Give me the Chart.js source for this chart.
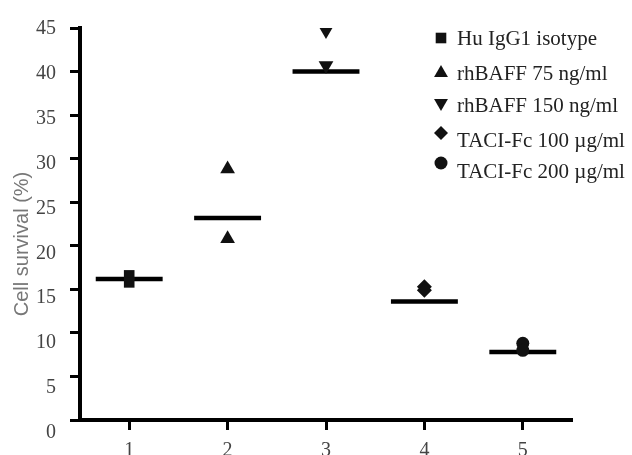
<!DOCTYPE html>
<html><head><meta charset="utf-8">
<script src="https://cdn.jsdelivr.net/npm/chart.js@4.4.1/dist/chart.umd.min.js"></script>
<style>html,body{margin:0;padding:0;background:#fff}canvas{display:block}</style>
</head><body>
<canvas id="c" width="632" height="455"></canvas>
<script>
// ---- data ----
const categories = [1, 2, 3, 4, 5];
const seriesNames = ['Hu IgG1 isotype', 'rhBAFF 75 ng/ml', 'rhBAFF 150 ng/ml', 'TACI-Fc 100 \u00b5g/ml', 'TACI-Fc 200 \u00b5g/ml'];
const isotype = [16.6, 15.8];
const baff75 = [28.8, 20.8];
const baff150 = [44.7, 40.7];
const taci100 = [15.3, 14.9];
const taci200 = [8.8, 8.0];
const medians = [16.2, 23.2, 40.0, 13.6, 7.8];
const xTickValues = [1, 2, 3, 4, 5];
const yTickValues = [0, 5, 10, 15, 20, 25, 30, 35, 40, 45];
const yTitle = 'Cell survival (%)';

// ---- styles ----
const seriesValues = [isotype, baff75, baff150, taci100, taci200];
const markerStyles = [
  {pointStyle: 'rect', radius: 7.5, rotation: 0},
  {pointStyle: 'triangle', radius: 8.5, rotation: 0},
  {pointStyle: 'triangle', radius: 8.5, rotation: 180},
  {pointStyle: 'rectRot', radius: 7.5, rotation: 0},
  {pointStyle: 'circle', radius: 6.5, rotation: 0}
];
const legendStyles = [
  {pointStyle: 'rect', radius: 7.5, rotation: 0, dy: 0},
  {pointStyle: 'triangle', radius: 8, rotation: 0, dy: 0},
  {pointStyle: 'triangle', radius: 8, rotation: 180, dy: -2},
  {pointStyle: 'rectRot', radius: 7, rotation: 0, dy: -7},
  {pointStyle: 'circle', radius: 6.5, rotation: 0, dy: -8}
];
const legendRowY = [38, 73, 105, 140, 171];
const HALF = 0.34;
const MARK = '#111';

const markerSets = seriesValues.map((vals, i) => ({
  label: seriesNames[i],
  data: vals.map(v => ({x: categories[i], y: v})),
  pointStyle: markerStyles[i].pointStyle,
  pointRadius: markerStyles[i].radius,
  pointRotation: markerStyles[i].rotation,
  pointBackgroundColor: MARK,
  pointBorderWidth: 0,
  showLine: false,
  yAxisID: 'y'
}));
const medianSets = medians.map((m, i) => ({
  label: '',
  data: [{x: categories[i] - HALF, y: m}, {x: categories[i] + HALF, y: m}],
  showLine: true,
  borderColor: '#000',
  borderWidth: 4.5,
  borderCapStyle: 'butt',
  pointRadius: 0,
  yAxisID: 'y'
}));

const legendPlugin = {
  id: 'sideLegend',
  afterDraw(chart) {
    const ctx = chart.ctx;
    ctx.save();
    ctx.font = '21px "Liberation Serif"';
    ctx.textAlign = 'left';
    ctx.textBaseline = 'middle';
    seriesNames.forEach((name, i) => {
      const y = legendRowY[i];
      const st = legendStyles[i];
      ctx.fillStyle = MARK;
      Chart.helpers.drawPoint(ctx, {pointStyle: st.pointStyle, radius: st.radius, rotation: st.rotation, borderWidth: 0}, 441, y + st.dy);
      ctx.fillStyle = '#222';
      ctx.fillText(name, 457, y + 1);
    });
    ctx.restore();
  }
};

new Chart(document.getElementById('c'), {
  type: 'scatter',
  data: {datasets: [...markerSets, ...medianSets]},
  options: {
    responsive: false,
    animation: false,
    layout: {padding: {top: 24, right: 60, bottom: 0, left: 0}},
    plugins: {legend: {display: false}, tooltip: {enabled: false}},
    scales: {
      x: {
        type: 'linear',
        min: 0.5, max: 5.5,
        afterBuildTicks: s => { s.ticks = xTickValues.map(v => ({value: v})); },
        afterFit: s => { s.height = 35; },
        border: {display: true, color: '#000', width: 4},
        grid: {display: true, drawOnChartArea: false, drawTicks: true, tickLength: 10, tickWidth: 3, tickColor: '#000'},
        ticks: {color: '#444', padding: 9, font: {family: 'Liberation Serif', size: 20}, maxRotation: 0}
      },
      y: {
        type: 'linear',
        position: 'left',
        weight: 0,
        min: 0, max: 45,
        afterBuildTicks: s => { s.ticks = yTickValues.map(v => ({value: v})); },
        afterFit: s => { s.width = 0; },
        border: {display: true, color: '#000', width: 4},
        grid: {display: true, drawOnChartArea: false, drawTicks: true, tickLength: 10, tickWidth: 3, tickColor: '#000'},
        ticks: {display: false}
      },
      yl: {
        type: 'linear',
        position: 'left',
        weight: 1,
        min: 1.434, max: 45.11,
        afterBuildTicks: s => { s.ticks = yTickValues.map(v => ({value: v})); },
        afterFit: s => { s.width = 80; },
        border: {display: false},
        grid: {display: false},
        ticks: {color: '#444', padding: 16, font: {family: 'Liberation Serif', size: 20}},
        title: {display: true, text: yTitle + '\u2003\u2003', color: '#777', padding: {top: 10, bottom: 0}, font: {family: 'Liberation Sans', size: 20}}
      }
    }
  },
  plugins: [legendPlugin]
});
</script>
</body></html>
